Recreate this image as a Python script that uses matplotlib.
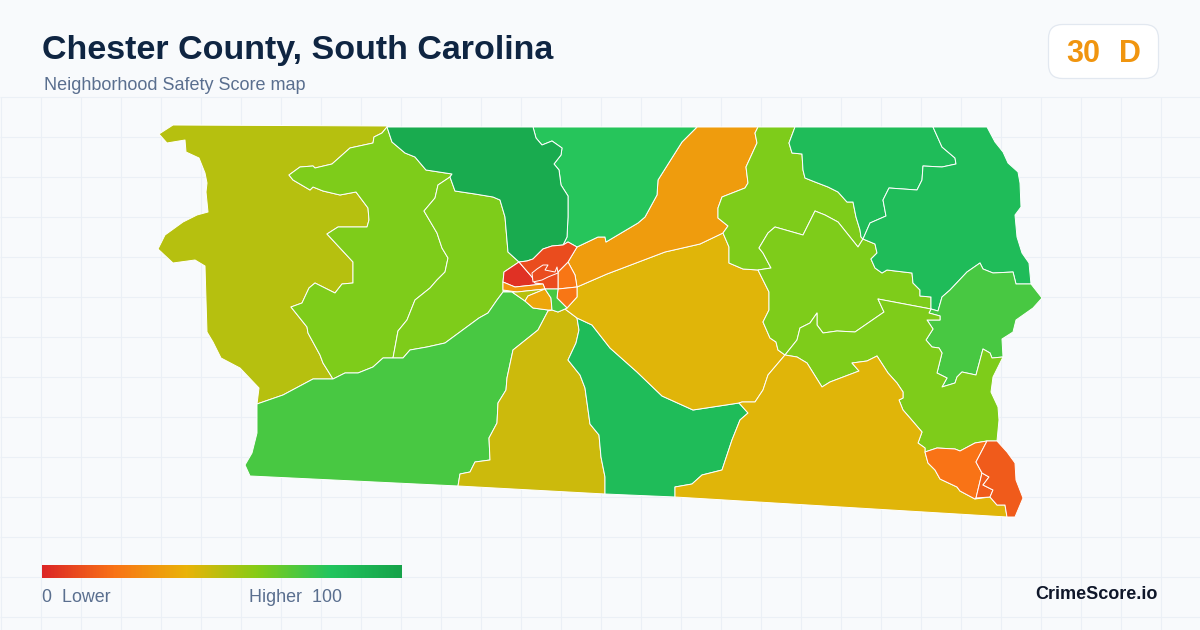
import numpy as np
import matplotlib
matplotlib.use("Agg")
import matplotlib.pyplot as plt
from matplotlib.colors import LinearSegmentedColormap
from matplotlib.patches import Polygon, FancyBboxPatch

# ---- colour scale ----
scale_stops = [0.0, 0.2, 0.4, 0.6, 0.8, 1.0]
scale_colors = ["#dc2626", "#f97316", "#eab308", "#84cc16", "#22c55e", "#16a34a"]

# ---- shared boundaries (x, y on the picture) ----
A_WEST = [(387,126),(173,125),(159,134),(167,143),(185,140),(186,152),(199,158),(205,173),(207,183),(206,192),(208,212),(197,215),(183,222),(165,235),(158,249),(173,263),(195,260),(205,266),(206,300),(207,332),(213,342),(221,358),(240,368),(259,388),(257,404)]
AS = [(257,404),(283,395),(313,379),(333,379)]
AB = [(333,379),(323,363),(320,355),(308,333),(307,327),(291,307),(302,303),(309,288),(315,283),(335,293),(342,284),(353,283),(353,262),(327,234),(338,227),(367,227),(369,220),(368,208),(356,192),(340,195),(323,191),(313,187),(310,190),(293,180),(289,175),(300,167),(313,166),(315,168),(332,164),(350,148),(373,143),(374,137),(382,133),(387,127)]
BN = [(387,127),(392,142),(405,153),(415,157),(426,170),(452,174),(450,177)]
BC = [(450,177),(438,185),(435,198),(424,211),(437,233),(442,248),(448,258),(445,272),(437,280),(430,288),(415,300),(407,320),(398,331),(393,358)]
BS = [(333,379),(345,373),(358,373),(373,367),(383,358),(393,358)]
CN = [(450,177),(455,191),(475,194),(493,197),(500,200),(505,217),(508,252),(519,262)]
CE = [(519,262),(504,272),(503,282),(503,290),(503,292)]
CS = [(503,292),(497,300),(488,313),(479,318),(445,343),(427,347),(410,350),(403,358),(393,358)]
S1E = [(503,292),(512,292),(525,301),(533,308),(548,310)]
S12 = [(548,311),(538,330),(513,350),(507,378),(506,390),(498,403),(497,423),(489,438),(490,460),(475,462),(470,472),(460,474),(458,486)]
S1SW = [(250,476),(245,465),(252,453),(257,433),(257,404)]
S2TOP = [(548,311),(552,310),(558,312),(565,309),(577,318)]
S23 = [(577,318),(579,330),(576,343),(568,360),(580,375),(585,388),(590,424),(599,435),(601,457),(605,477),(605,494)]
S3Y1 = [(577,318),(592,325),(610,348),(637,372),(662,396),(693,410),(739,403)]
S3Y2 = [(748,413),(740,420),(732,440),(722,470),(702,475),(692,484),(675,487),(675,497)]
Y1O2 = [(577,287),(577,297),(567,308),(565,309)]
Y1Y2 = [(739,403),(742,402),(755,402),(763,390),(768,375),(785,355)]
Y1L = [(785,355),(778,350),(776,342),(770,338),(763,322),(769,310),(769,292),(758,270)]
Y1L1 = [(758,270),(743,269),(729,263),(729,247),(723,233)]
Y1O1 = [(723,233),(700,244),(665,252),(607,274),(577,287)]
N2O1 = [(577,247),(598,237),(605,237),(606,242),(638,223),(645,217),(657,195),(658,180),(682,142),(697,127)]
O1L1 = [(758,127),(755,133),(757,143),(746,167),(748,183),(745,188),(722,197),(718,208),(718,218),(728,226),(723,233)]
N1N2 = [(533,127),(536,138),(542,145),(552,141),(562,148),(561,155),(554,164),(559,170),(561,185),(568,196),(568,217),(567,237),(563,245)]
N1R = [(519,262),(527,261),(533,259),(543,249),(552,246),(563,245)]
L1N = [(795,127),(789,143),(792,153),(802,154),(803,170),(805,178),(815,182),(828,187),(838,192),(847,202),(853,202),(856,217),(860,230),(861,237),(863,239)]
L1L2 = [(863,239),(858,247),(838,222),(825,215),(815,211),(803,235),(775,227),(768,233),(759,248),(763,253),(771,268),(758,270)]
L2NE = [(863,239),(875,244),(877,253),(871,259),(875,268),(882,273),(887,270),(912,273),(913,283),(920,290),(920,296),(931,297),(931,309)]
L2L3 = [(931,309),(878,299),(884,312),(855,332),(837,331),(823,333),(817,325),(817,313),(810,323),(800,328),(797,340),(785,355)]
NE13 = [(933,127),(942,147),(955,158),(956,164),(942,167),(923,166),(922,180),(917,190),(889,188),(883,200),(886,216),(870,223),(863,239)]
NE3E = [(987,127),(995,142),(1003,152),(1008,163),(1018,172),(1020,183),(1021,207),(1015,215),(1017,237),(1022,253),(1029,263),(1031,284)]
NE32 = [(1031,284),(1016,284),(1013,272),(993,273),(983,269),(980,263),(967,272),(950,290),(942,297),(938,311),(931,309)]
NE2L3 = [(931,309),(929,313),(940,316),(940,320),(927,320),(933,329),(926,340),(932,347),(939,348),(942,353),(937,373),(947,378),(942,387),(955,383),(957,377),(962,372),(976,375),(983,349),(990,353),(992,358),(1003,357)]
NE2E = [(1003,357),(1002,339),(1013,332),(1016,320),(1033,308),(1042,298),(1031,284)]
L3Y2 = [(785,355),(797,357),(807,363),(822,387),(830,382),(859,371),(852,363),(867,361),(877,356),(888,373),(897,383),(903,392),(903,398),(899,400),(903,410),(910,418),(922,432),(918,443),(925,448),(925,452)]
L3O3 = [(925,452),(937,448),(955,449),(960,451),(975,443),(987,441)]
L3E = [(997,441),(999,420),(998,407),(991,392),(993,377),(1003,357)]
O3Y2 = [(925,452),(928,463),(935,470),(940,479),(957,487),(960,491),(975,499)]
O3R = [(987,441),(976,462),(982,473),(976,498),(975,499)]


def rev(seg):
    return seg[::-1]


# ---- tracts: outline and score ----
tract_shapes = [
    A_WEST + AS + AB,
    BN + BC + rev(BS) + AB,
    CN + CE + CS + rev(BC),
    AS + BS + rev(CS) + S1E + S12 + S1SW,
    S12 + rev(S23) + rev(S2TOP),
    S23 + rev(S3Y2) + [(739,403)] + rev(S3Y1),
    Y1O2 + S3Y1 + Y1Y2 + Y1L + Y1L1 + Y1O1,
    N2O1 + O1L1 + Y1O1 + [(575,275),(568,262)],
    [(568,262),(575,275),(577,287),(558,289),(558,272)],
    [(558,289),(577,287),(577,297),(567,308),(557,298)],
    [(533,127),(697,127)] + rev(N2O1) + [(568,242)] + rev(N1N2),
    BN + CN + N1R + rev(N1N2),
    [(519,262),(532,277),(535,283),(543,284),(515,287),(503,282),(504,272)],
    N1R + [(568,242),(577,247),(568,262),(558,272),(558,289),(545,289),(543,284),(535,283),(532,277)],
    [(532,273),(537,269),(543,265),(548,265),(545,270),(555,272),(557,267),(558,273),(548,277),(542,280),(533,282)],
    [(503,282),(515,287),(543,284),(545,289),(517,292),(503,290)],
    [(512,292),(517,292),(545,289),(528,296),(525,301)],
    [(525,301),(528,296),(545,289),(551,298),(552,310),(548,310),(533,308)],
    [(545,289),(558,289),(557,298),(567,308),(565,309),(558,312),(552,310),(551,298)],
    L1N + L1L2 + Y1L1 + rev(O1L1),
    rev(L1L2) + L2NE + L2L3 + Y1L,
    [(795,127),(933,127)] + NE13 + rev(L1N),
    [(933,127),(987,127)] + NE3E + NE32 + rev(L2NE) + rev(NE13),
    NE32 + NE2L3 + NE2E,
    L2L3 + L3Y2 + L3O3 + L3E + rev(NE2L3),
    rev(S3Y2) + Y1Y2 + L3Y2 + O3Y2 + [(990,497),(997,505),(1005,505),(1007,517)],
    L3O3 + O3R + rev(O3Y2),
    [(982,473),(989,477),(983,485),(993,490),(990,497),(976,498)],
    [(987,441),(997,441),(1007,452),(1015,463),(1016,480),(1023,498),(1015,517),(1007,517),(1005,505),(997,505),(990,497),(993,490),(983,485),(989,477),(982,473),(976,462)],
]
tract_scores = [50, 61, 61, 72, 46, 85, 42, 33, 21, 21, 79, 95, 3, 10, 10, 31, 50, 36, 72,
                61, 61, 85, 85, 72, 61, 42, 20, 14, 14]

# ---- text ----
title_text = "Chester County, South Carolina"
subtitle_text = "Neighborhood Safety Score map"
badge_score = "30"
badge_grade = "D"
legend_low = "0  Lower"
legend_high = "Higher  100"
brand_text = "CrimeScore.io"

W, H = 1200, 630
BG = "#f8fafc"
plt.rcParams["font.family"] = ["Liberation Sans", "DejaVu Sans"]
fig = plt.figure(figsize=(W / 100, H / 100), dpi=100, facecolor=BG)
ax = fig.add_axes([0, 0, 1, 1])
ax.set_axis_off()

# faint background grid
for gx in np.arange(0.5, W, 40):
    ax.vlines(gx, 97, H, color="#ebf0f6", lw=0.8, zorder=1)
for gy in np.arange(96.5, H, 40):
    ax.hlines(gy, 0, W, color="#ebf0f6", lw=0.8, zorder=1)

cmap = LinearSegmentedColormap.from_list("safety", list(zip(scale_stops, scale_colors)))
for shape, score in zip(tract_shapes, tract_scores):
    ax.add_patch(Polygon(shape, closed=True, facecolor=cmap(score / 100), edgecolor="white",
                         linewidth=0.7, joinstyle="round", zorder=2))

# titles
ax.text(42, 59, title_text, fontsize=24.45, fontweight="bold", color="#0f2542", va="baseline", ha="left", zorder=5)
ax.text(44, 90.5, subtitle_text, fontsize=12.95, color="#5a6f8f", va="baseline", ha="left", zorder=5)

# score badge
ax.add_patch(FancyBboxPatch((1062.5, 38.5), 82, 26, boxstyle="round,pad=14,rounding_size=14",
                            facecolor="white", edgecolor="#e2e8f0", linewidth=0.9, zorder=4))
ax.text(1083, 62, badge_score, fontsize=22, fontweight="bold", color="#f0950f", va="baseline", ha="center", zorder=5)
ax.text(1130, 62, badge_grade, fontsize=22, fontweight="bold", color="#f0950f", va="baseline", ha="center", zorder=5)

# colour legend
ax.imshow(np.linspace(0, 1, 360).reshape(1, -1), cmap=cmap, extent=(42, 402, 578, 565), aspect="auto", zorder=3)
ax.text(42, 602, legend_low, fontsize=12.9, color="#5a6f8f", va="baseline", ha="left", zorder=5)
ax.text(342, 602, legend_high, fontsize=12.9, color="#5a6f8f", va="baseline", ha="right", zorder=5)
ax.text(1158, 599, brand_text, fontsize=13, fontweight="bold", color="#0f172a", va="baseline", ha="right", zorder=5)

ax.set_xlim(0, W)
ax.set_ylim(H, 0)
fig.savefig("out.png", dpi=100, facecolor=BG)
